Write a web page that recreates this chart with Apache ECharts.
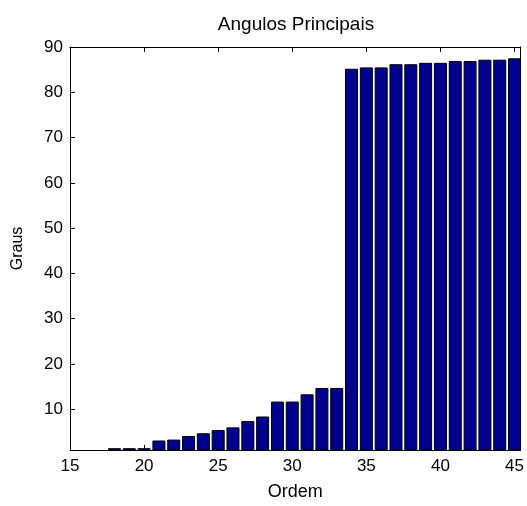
<!DOCTYPE html>
<html>
<head>
<meta charset="utf-8">
<script src="https://cdn.jsdelivr.net/npm/echarts@6/dist/echarts.min.js"></script>
<style>
html, body { margin: 0; padding: 0; background: #fff; }
#chart { width: 527px; height: 506px; }
</style>
</head>
<body>
<div id="chart"></div>
<script>
// ordem (x) e angulos (y)
var ordem = [16, 17, 18, 19, 20, 21, 22, 23, 24, 25, 26, 27, 28, 29, 30,
             31, 32, 33, 34, 35, 36, 37, 38, 39, 40, 41, 42, 43, 44, 45];
var graus = [0.4, 0.7, 1.4, 1.4, 1.4, 3.1, 3.3, 4.1, 4.7, 5.4, 6.0, 7.4, 8.4, 11.7, 11.7,
             13.3, 14.7, 14.7, 85.2, 85.5, 85.5, 86.2, 86.2, 86.5, 86.5, 86.9, 86.9, 87.2, 87.2, 87.5];
var xTicks = [15, 20, 25, 30, 35, 40, 45];
var yTicks = [10, 20, 30, 40, 50, 60, 70, 80, 90];

var font = 'Liberation Sans, Arial, sans-serif';

var myChart = echarts.init(document.getElementById('chart'));

var data = ordem.map(function(x, i){ return [x, graus[i]]; });

var lineStyle = {color: '#000', width: 1};

var option = {
    animation: false,
    backgroundColor: '#fff',
    title: {
        text: 'Angulos Principais',
        left: 291,
        top: 10,
        textAlign: 'center',
        textStyle: {fontFamily: font, fontSize: 19, fontWeight: 'normal', color: '#000'}
    },
    grid: {left: 70, right: 3, top: 47, bottom: 54},
    xAxis: [{
        type: 'value',
        min: 15,
        max: 45.4,
        name: 'Ordem',
        nameLocation: 'middle',
        nameGap: 33,
        nameTextStyle: {fontFamily: font, fontSize: 18, color: '#000'},
        axisLine: {show: true, lineStyle: lineStyle},
        axisTick: {show: true, inside: true, length: 5, lineStyle: lineStyle, customValues: xTicks},
        axisLabel: {fontFamily: font, fontSize: 17, color: '#000', margin: 8, customValues: xTicks},
        splitLine: {show: false}
    }, {
        type: 'value',
        position: 'top',
        min: 15,
        max: 45.4,
        axisLine: {show: true, lineStyle: lineStyle},
        axisTick: {show: true, inside: true, length: 5, lineStyle: lineStyle, customValues: xTicks},
        axisLabel: {show: false},
        splitLine: {show: false}
    }],
    yAxis: [{
        type: 'value',
        min: 1,
        max: 90,
        name: 'Graus',
        nameLocation: 'middle',
        nameRotate: 90,
        nameGap: 44,
        nameTextStyle: {fontFamily: font, fontSize: 16, color: '#000'},
        axisLine: {show: true, lineStyle: lineStyle},
        axisTick: {show: true, inside: true, length: 5, lineStyle: lineStyle, customValues: yTicks},
        axisLabel: {fontFamily: font, fontSize: 17, color: '#000', margin: 7, customValues: yTicks},
        splitLine: {show: false}
    }, {
        type: 'value',
        position: 'right',
        min: 1,
        max: 90,
        axisLine: {show: true, lineStyle: lineStyle},
        axisTick: {show: true, inside: true, length: 5, lineStyle: lineStyle, customValues: yTicks},
        axisLabel: {show: false},
        splitLine: {show: false}
    }],
    series: [{
        type: 'bar',
        xAxisIndex: 0,
        yAxisIndex: 0,
        data: data,
        barWidth: 13,
        clip: true,
        itemStyle: {color: '#000090', borderColor: '#000', borderWidth: 1}
    }]
};

myChart.setOption(option);
</script>
</body>
</html>
